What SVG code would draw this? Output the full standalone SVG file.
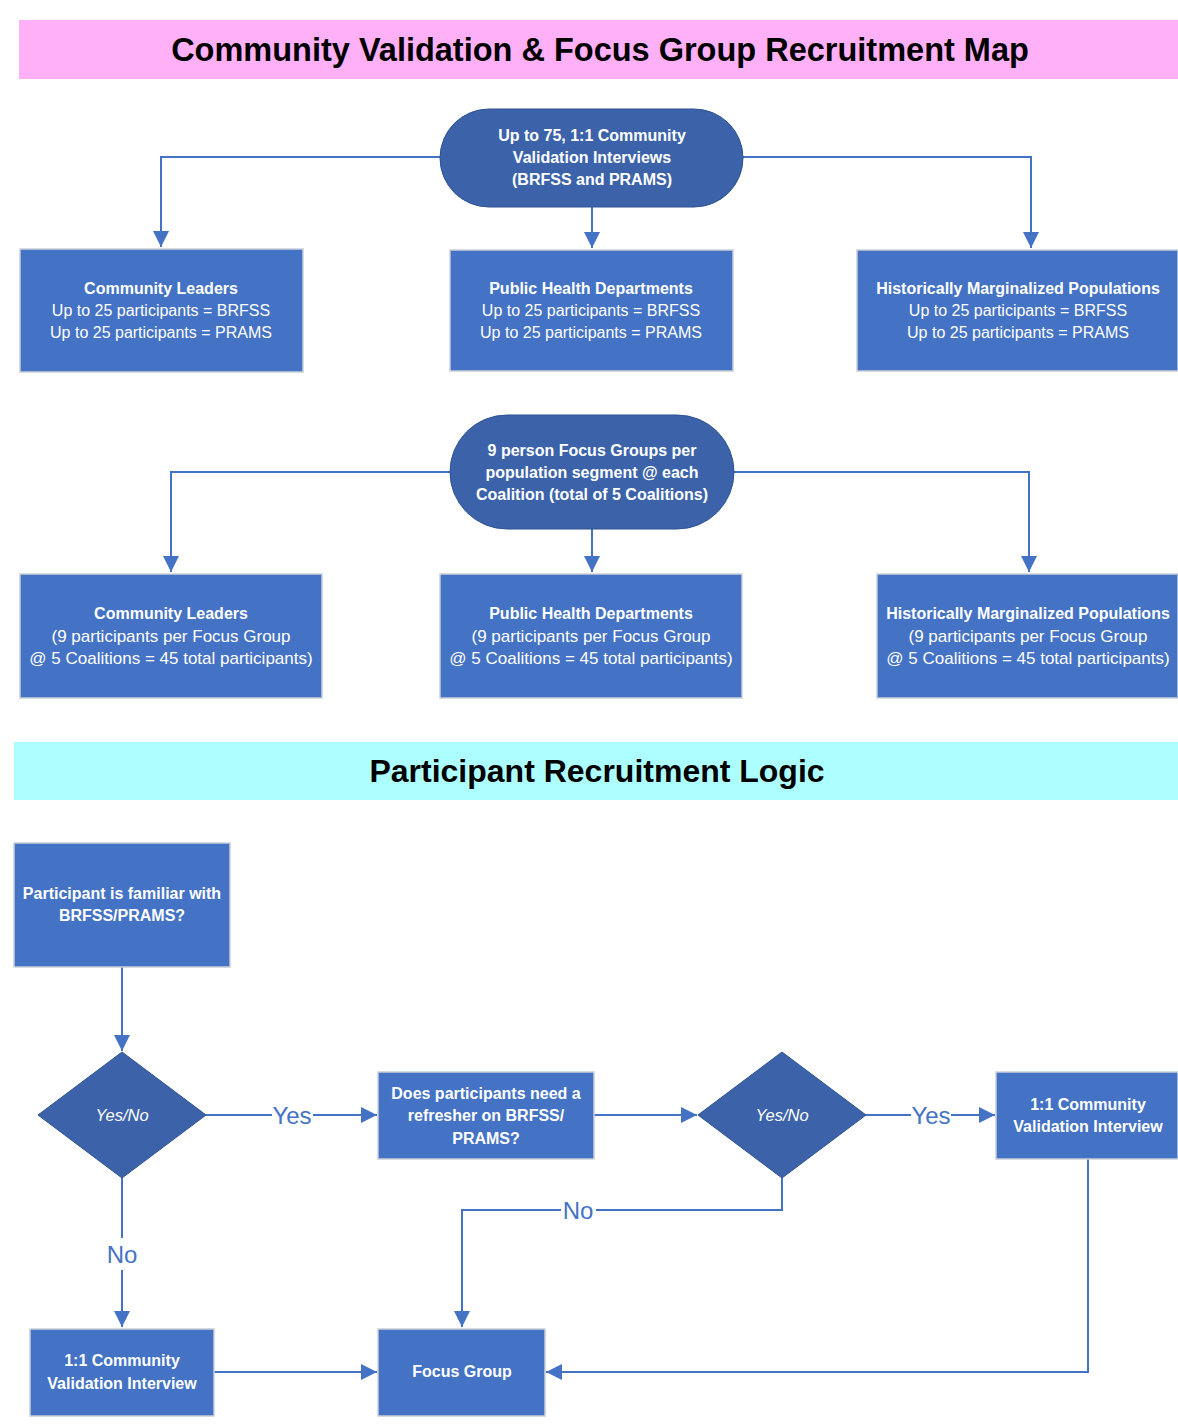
<svg xmlns="http://www.w3.org/2000/svg" width="1178" height="1427" viewBox="0 0 1178 1427">
<defs>
<style>
.box{fill:#4472C4;stroke:#C9CFD8;stroke-width:1.5}
.dark{fill:#3C63AA;stroke:#2F528F;stroke-width:1}
.t{font-family:"Liberation Sans",Arial,sans-serif;fill:#fff;font-size:16px;text-anchor:middle;dominant-baseline:central}
.b{font-weight:bold}
.i{font-style:italic;font-size:16.5px}
.r2{font-size:17px}
.ln{fill:none;stroke:#4472C4;stroke-width:2}
.lbl{font-family:"Liberation Sans",Arial,sans-serif;fill:#4472C4;font-size:24px;text-anchor:middle;dominant-baseline:central}
.h{font-family:"Liberation Sans",Arial,sans-serif;fill:#000;font-weight:bold;text-anchor:middle;dominant-baseline:central}
</style>
<marker id="ah" viewBox="0 0 10 10" refX="10" refY="5" markerWidth="8" markerHeight="8" markerUnits="strokeWidth" orient="auto">
<path d="M0,0 L10,5 L0,10 z" fill="#4472C4"/>
</marker>
</defs>
<rect width="1178" height="1427" fill="#fff"/>

<g id="banner1">
<rect x="19" y="20" width="1159" height="59" fill="#FFB0F6"/>
<text class="h" x="600" y="50" font-size="32.5">Community Validation &amp; Focus Group Recruitment Map</text>
</g>

<g id="connectors">
<path class="ln" d="M440,157 H161 V247" marker-end="url(#ah)"/>
<path class="ln" d="M743,157 H1031 V248" marker-end="url(#ah)"/>
<path class="ln" d="M592,207 V248" marker-end="url(#ah)"/>
<path class="ln" d="M450,472 H171 V572" marker-end="url(#ah)"/>
<path class="ln" d="M734,472 H1029 V572" marker-end="url(#ah)"/>
<path class="ln" d="M592,529 V572" marker-end="url(#ah)"/>
<path class="ln" d="M122,967 V1051" marker-end="url(#ah)"/>
<path class="ln" d="M206,1115 H272 M313,1115 H377" marker-end="url(#ah)"/>
<path class="ln" d="M594,1115 H697" marker-end="url(#ah)"/>
<path class="ln" d="M866,1115 H911 M951,1115 H995" marker-end="url(#ah)"/>
<path class="ln" d="M782,1178 V1210 H596 M561,1210 H462 V1327" marker-end="url(#ah)"/>
<path class="ln" d="M122,1178 V1238 M122,1270 V1327" marker-end="url(#ah)"/>
<path class="ln" d="M214,1372 H377" marker-end="url(#ah)"/>
<path class="ln" d="M1088,1159 V1372 H546" marker-end="url(#ah)"/>
<text class="lbl" x="292" y="1115">Yes</text>
<text class="lbl" x="931" y="1115">Yes</text>
<text class="lbl" x="578" y="1210">No</text>
<text class="lbl" x="122" y="1254">No</text>
</g>

<g id="start1">
<rect class="dark" x="440" y="109" width="303" height="98" rx="49"/>
<text class="t b" x="592"><tspan x="592" y="135">Up to 75, 1:1 Community</tspan><tspan x="592" y="157">Validation Interviews</tspan><tspan x="592" y="179">(BRFSS and PRAMS)</tspan></text>
</g>

<g id="cl1">
<rect class="box" x="20" y="249" width="283" height="123"/>
<text class="t" x="161"><tspan x="161" y="288" class="b">Community Leaders</tspan><tspan x="161" y="310">Up to 25 participants = BRFSS</tspan><tspan x="161" y="332">Up to 25 participants = PRAMS</tspan></text>
</g>
<g id="phd1">
<rect class="box" x="450" y="250" width="283" height="121"/>
<text class="t" x="591"><tspan x="591" y="288" class="b">Public Health Departments</tspan><tspan x="591" y="310">Up to 25 participants = BRFSS</tspan><tspan x="591" y="332">Up to 25 participants = PRAMS</tspan></text>
</g>
<g id="hmp1">
<rect class="box" x="857" y="250" width="321" height="121"/>
<text class="t" x="1018"><tspan x="1018" y="288" class="b">Historically Marginalized Populations</tspan><tspan x="1018" y="310">Up to 25 participants = BRFSS</tspan><tspan x="1018" y="332">Up to 25 participants = PRAMS</tspan></text>
</g>

<g id="start2">
<rect class="dark" x="450" y="415" width="284" height="114" rx="57"/>
<text class="t b" x="592"><tspan x="592" y="450">9 person Focus Groups per</tspan><tspan x="592" y="472">population segment @ each</tspan><tspan x="592" y="494">Coalition (total of 5 Coalitions)</tspan></text>
</g>

<g id="cl2">
<rect class="box" x="20" y="574" width="302" height="124"/>
<text class="t" x="171"><tspan x="171" y="613" class="b">Community Leaders</tspan><tspan x="171" y="636" class="r2">(9 participants per Focus Group</tspan><tspan x="171" y="658" class="r2">@ 5 Coalitions = 45 total participants)</tspan></text>
</g>
<g id="phd2">
<rect class="box" x="440" y="574" width="302" height="124"/>
<text class="t" x="591"><tspan x="591" y="613" class="b">Public Health Departments</tspan><tspan x="591" y="636" class="r2">(9 participants per Focus Group</tspan><tspan x="591" y="658" class="r2">@ 5 Coalitions = 45 total participants)</tspan></text>
</g>
<g id="hmp2">
<rect class="box" x="877" y="574" width="301" height="124"/>
<text class="t" x="1028"><tspan x="1028" y="613" class="b">Historically Marginalized Populations</tspan><tspan x="1028" y="636" class="r2">(9 participants per Focus Group</tspan><tspan x="1028" y="658" class="r2">@ 5 Coalitions = 45 total participants)</tspan></text>
</g>

<g id="banner2">
<rect x="14" y="742" width="1164" height="58" fill="#ADFFFF"/>
<text class="h" x="597" y="771" font-size="32">Participant Recruitment Logic</text>
</g>

<g id="familiar">
<rect class="box" x="14" y="843" width="216" height="124"/>
<text class="t b" x="122"><tspan x="122" y="893">Participant is familiar with</tspan><tspan x="122" y="915">BRFSS/PRAMS?</tspan></text>
</g>
<g id="dec1">
<polygon class="dark" points="122,1052 206,1115 122,1178 38,1115"/>
<text class="t i" x="122" y="1115">Yes/No</text>
</g>
<g id="refresher">
<rect class="box" x="378" y="1072" width="216" height="87"/>
<text class="t b" x="486"><tspan x="486" y="1093">Does participants need a</tspan><tspan x="486" y="1115">refresher on BRFSS/</tspan><tspan x="486" y="1138">PRAMS?</tspan></text>
</g>
<g id="dec2">
<polygon class="dark" points="782,1052 866,1115 782,1178 698,1115"/>
<text class="t i" x="782" y="1115">Yes/No</text>
</g>
<g id="interviewR">
<rect class="box" x="996" y="1072" width="182" height="87"/>
<text class="t b" x="1088"><tspan x="1088" y="1104">1:1 Community</tspan><tspan x="1088" y="1126">Validation Interview</tspan></text>
</g>
<g id="interviewL">
<rect class="box" x="30" y="1329" width="184" height="87"/>
<text class="t b" x="122"><tspan x="122" y="1360">1:1 Community</tspan><tspan x="122" y="1383">Validation Interview</tspan></text>
</g>
<g id="focus">
<rect class="box" x="378" y="1329" width="167" height="87"/>
<text class="t b" x="462" y="1371">Focus Group</text>
</g>
</svg>
